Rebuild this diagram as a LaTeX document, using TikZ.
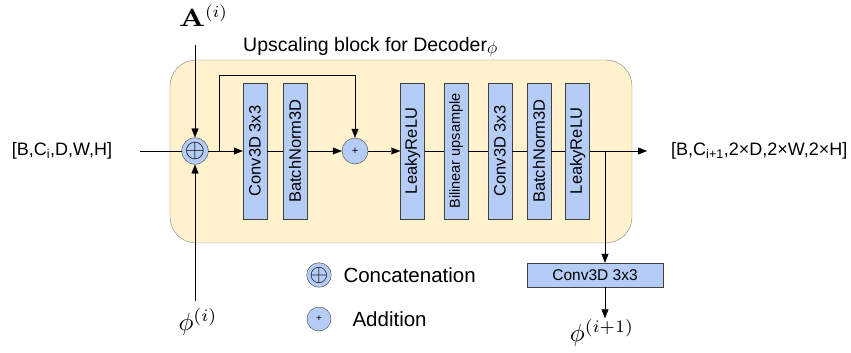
\documentclass[tikz,border=0pt]{standalone}
\usepackage[no-math]{fontspec}
\setmainfont{Liberation Sans}
\usepackage{amsmath}
\usetikzlibrary{arrows.meta}
\definecolor{blockfill}{RGB}{255,242,204}
\definecolor{layerfill}{RGB}{180,204,246}

\begin{document}
\begin{tikzpicture}[x=1pt,y=-1pt,
	layer/.style={draw=black!75,fill=layerfill,rotate=90,minimum width=136pt,minimum height=24pt,inner sep=0pt,font=\fontsize{16}{18}\selectfont},
	op/.style={circle,draw=black!75,fill=layerfill,minimum size=26pt,inner sep=0pt},
	lbl/.style={font=\fontsize{18}{20}\selectfont,inner sep=1pt},
	arr/.style={-{Triangle[length=9pt,width=7pt]}}]
\useasboundingbox (0,0) rectangle (851,353);
% the block
\draw[draw=black!50,fill=blockfill,rounded corners=26pt] (170,60) rectangle (632,243);
\node[lbl,font=\fontsize{19.5}{21}\selectfont,anchor=west] (title) at (242,47) {Upscaling block for Decoder\raisebox{-2pt}{\scalebox{0.85}{$\phi$}}};
% operations
\node[op] (cat) at (195,151) {\scalebox{2.6}{$\oplus$}};
\node[op] (add) at (355,151) {\fontsize{11}{11}\selectfont +};
% layers
\foreach \n/\x/\t/\s in {c1/255/Conv3D 3x3/16.5, bn1/295/BatchNorm3D/16.5, lr1/412.5/LeakyReLU/16.5, up/456/Bilinear upsample/14.5, c2/500/Conv3D 3x3/16.5, bn2/539/BatchNorm3D/16.5, lr2/577.5/LeakyReLU/16.5}
{
	\node[layer,font=\fontsize{\s}{\s}\selectfont] (\n) at (\x,151) {\t};
}
\node[layer,rotate=-90,font=\fontsize{15.5}{15.5}\selectfont] (c3) at (595,275) {Conv3D 3x3};
% inputs and outputs
\node[lbl] (xin) at (62,151) {[B,C\textsubscript{i},D,W,H]};
\node[lbl,anchor=west] (xout) at (670,151) {[B,C\textsubscript{i+1},2×D,2×W,2×H]};
\node[inner sep=1pt] (ain) at (203,16) {\scalebox{3}[2.5]{$\mathbf{A}$}\raisebox{9pt}{\scalebox{2.4}{$\scriptstyle(i)$}}};
\node[inner sep=1pt] (phiin) at (198,322) {\scalebox{2.5}{$\phi^{(i)}$}};
\node[inner sep=1pt] (phiout) at (602,333) {\scalebox{2.5}{$\phi^{(i+1)}$}};
\coordinate (inl) at (140,151);
\coordinate (atop) at (195,45);
\coordinate (split) at (219,151);
\coordinate (split2) at (605,151);
\coordinate (outr) at (647,151);
% connectors
\draw (inl) -- (cat);
\draw[arr] (atop) -- (cat);
\draw[arr] (cat |- phiin.north) ++(0,-6) -- (cat);
\draw[arr] (cat) -- (c1);
\draw[arr] (split) -- ++(0,-76) -| (add);
\draw (c1) -- (bn1);
\draw[arr] (bn1) -- (add);
\draw[arr] (add) -- (lr1);
\draw (lr1) -- (up);
\draw (up) -- (c2);
\draw (c2) -- (bn2);
\draw (bn2) -- (lr2);
\draw[arr] (lr2) -- (outr);
\draw[arr] (split2) -- (split2 |- c3.north);
\draw[arr] (c3.south -| split2) -- (split2 |- phiout.north);
% legend
\node[op,minimum size=24pt] (lcat) at (319,275) {\scalebox{2.4}{$\oplus$}};
\node[font=\fontsize{20.5}{22}\selectfont,anchor=west] (lcattxt) at (340,275) {Concatenation};
\node[op,minimum size=24pt] (ladd) at (319,319) {\fontsize{10}{10}\selectfont +};
\node[font=\fontsize{20.5}{22}\selectfont,anchor=west] (laddtxt) at (349,319) {Addition};
\end{tikzpicture}
\end{document}
